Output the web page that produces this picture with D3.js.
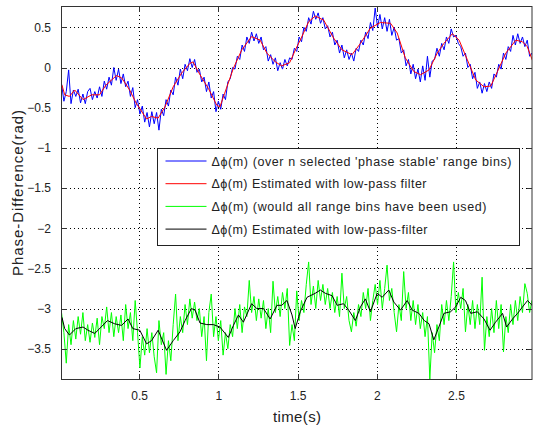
<!DOCTYPE html>
<html lang="en">
<head>
<meta charset="utf-8">
<script src="https://cdn.jsdelivr.net/npm/d3@7"></script>
<style>
  body { margin: 0; background: #fff; }
  text { font-family: "Liberation Sans", Arial, Helvetica, sans-serif; fill: #222; }
  .grid line { stroke: #000; stroke-width: 1; stroke-dasharray: 1,3; shape-rendering: crispEdges; }
  .tick line { stroke: #333; shape-rendering: crispEdges; }
</style>
</head>
<body>
<div id="chart"></div>
<script>

// x ticks / y ticks
var xTicks = [0.5, 1, 1.5, 2, 2.5];
var yTicks = [0.5, 0, -0.5, -1, -1.5, -2, -2.5, -3, -3.5];

// sample grid of the raw (noisy) series, seconds
var sampleStart = 0.01, sampleStep = 0.015;

// phase difference over the selected 'phase stable' bins (blue)
var stablePhase = [
  -0.20,-0.42,-0.30,-0.03,-0.45,-0.28,-0.36,-0.27,-0.44,-0.33,
  -0.45,-0.30,-0.26,-0.40,-0.30,-0.38,-0.24,-0.36,-0.17,-0.27,
  -0.12,-0.22, 0.00,-0.16,-0.02,-0.20,-0.08,-0.24,-0.17,-0.36,
  -0.25,-0.50,-0.40,-0.58,-0.48,-0.68,-0.56,-0.74,-0.55,-0.70,
  -0.56,-0.78,-0.52,-0.60,-0.40,-0.48,-0.28,-0.34,-0.12,-0.22,
  -0.02,-0.14, 0.04,-0.04, 0.11, 0.00, 0.10,-0.06,-0.02,-0.18,
  -0.12,-0.30,-0.18,-0.38,-0.30,-0.55,-0.42,-0.52,-0.33,-0.40,
  -0.18,-0.14, 0.00,-0.02, 0.14, 0.10, 0.28, 0.20, 0.38, 0.30,
   0.44, 0.33, 0.42, 0.30, 0.38, 0.22, 0.26, 0.08, 0.16, 0.04,
   0.12,-0.04, 0.06,-0.02, 0.10, 0.02, 0.12, 0.10, 0.24, 0.20,
   0.38, 0.32, 0.50, 0.45, 0.62, 0.54, 0.70, 0.60, 0.68, 0.55,
   0.62, 0.48, 0.52, 0.38, 0.44, 0.28, 0.34, 0.18, 0.28, 0.12,
   0.22, 0.10, 0.18, 0.08, 0.24, 0.20, 0.34, 0.28, 0.44, 0.36,
   0.56, 0.46, 0.74, 0.50, 0.66, 0.48, 0.62, 0.45, 0.60, 0.40,
   0.50, 0.34, 0.36, 0.18, 0.22, 0.02, 0.10,-0.08, 0.04,-0.14,
  -0.02,-0.18, 0.02,-0.16, 0.14,-0.12, 0.08, 0.10, 0.24, 0.14,
   0.30, 0.22, 0.38, 0.30, 0.48, 0.38, 0.40, 0.30, 0.26, 0.14,
   0.18, 0.00, 0.04,-0.14,-0.06,-0.26,-0.18,-0.32,-0.20,-0.30,
  -0.18,-0.26,-0.08,-0.12, 0.04,-0.02, 0.18, 0.10, 0.26, 0.20,
   0.40, 0.28, 0.42, 0.30, 0.38, 0.26, 0.34, 0.14, 0.18,-0.05
];

// phase difference had all range bins been used (green)
var allBinsPhase = [
  -3.05,-3.30,-3.68,-3.20,-3.45,-3.15,-3.38,-3.10,-3.32,-3.05,
  -3.40,-3.20,-3.42,-3.18,-3.36,-3.12,-3.45,-3.10,-3.25,-2.98,
  -3.30,-3.05,-3.35,-3.10,-3.30,-3.08,-3.40,-2.95,-3.25,-3.05,
  -3.40,-2.90,-3.30,-3.74,-3.35,-3.58,-3.25,-3.55,-3.30,-3.60,
  -3.80,-3.15,-3.45,-3.30,-3.82,-3.40,-3.65,-3.20,-2.82,-3.40,
  -3.10,-3.30,-2.95,-3.20,-2.88,-3.12,-2.92,-3.15,-3.00,-3.35,
  -3.10,-3.65,-3.05,-2.82,-3.35,-3.10,-3.40,-3.15,-3.58,-3.30,
  -3.50,-3.20,-3.35,-3.00,-3.25,-2.95,-3.30,-2.98,-3.10,-2.65,
  -3.05,-2.85,-3.15,-2.88,-3.12,-2.90,-3.25,-3.00,-3.30,-2.66,
  -3.05,-2.85,-3.10,-2.80,-3.00,-2.75,-3.46,-3.20,-3.40,-2.78,
  -3.15,-2.90,-3.05,-2.70,-2.42,-2.95,-2.72,-3.00,-2.65,-2.90,
  -2.70,-2.95,-2.75,-3.00,-2.80,-3.05,-2.85,-3.10,-2.56,-3.00,
  -2.85,-3.15,-3.29,-3.05,-3.22,-2.95,-3.10,-2.80,-3.00,-2.75,
  -3.15,-2.90,-2.70,-2.95,-2.65,-3.00,-2.75,-2.46,-2.90,-2.75,
  -3.05,-3.29,-2.95,-3.15,-2.54,-3.00,-2.80,-3.15,-2.90,-3.20,
  -2.95,-3.25,-3.05,-3.35,-3.10,-3.88,-3.30,-3.55,-3.20,-3.40,
  -2.95,-3.20,-2.90,-3.15,-2.85,-2.42,-3.05,-2.80,-3.00,-2.75,
  -3.29,-2.95,-3.20,-2.90,-3.25,-2.95,-3.20,-2.61,-3.52,-3.10,
  -3.35,-3.00,-3.30,-2.90,-3.25,-2.95,-3.54,-3.10,-3.30,-2.95,
  -3.20,-2.90,-3.15,-2.85,-3.05,-2.69,-2.81,-3.05,-2.90,-3.10
];

// low-pass estimate of the blue series (red), read at these times
var redTime = [0.013,0.03,0.06,0.093,0.146,0.2,0.25,0.29,0.357,0.39,0.44,0.48,0.547,0.578,0.62,0.663,0.715,0.768,0.82,0.84,
  0.884,0.937,0.99,1.01,1.04,1.095,1.148,1.21,1.264,1.306,1.36,1.40,1.45,1.496,1.517,1.57,1.612,1.665,1.728,1.78,
  1.844,1.897,1.96,2.023,2.087,2.129,2.18,2.234,2.277,2.33,2.382,2.424,2.477,2.52,2.572,2.625,2.677,2.72,2.762,2.815,
  2.878,2.92,2.95,2.99];
var redPhase = [-0.22,-0.34,-0.36,-0.28,-0.40,-0.34,-0.34,-0.22,-0.10,-0.13,-0.28,-0.44,-0.64,-0.61,-0.63,-0.49,-0.24,-0.07,0.05,0.07,
  -0.09,-0.26,-0.47,-0.49,-0.32,-0.01,0.22,0.385,0.34,0.18,0.07,0.02,0.06,0.26,0.34,0.57,0.64,0.59,0.365,0.22,
  0.16,0.30,0.49,0.56,0.55,0.43,0.12,-0.05,-0.09,-0.03,0.18,0.30,0.42,0.34,0.095,-0.155,-0.24,-0.23,-0.05,0.18,
  0.34,0.32,0.26,0.05];

// low-pass estimate of the green series (black)
var blackTime = [0.013,0.03,0.06,0.10,0.146,0.177,0.22,0.26,0.30,0.346,0.389,0.43,0.46,0.504,0.547,0.578,0.62,0.673,0.715,0.758,
  0.79,0.83,0.853,0.884,0.927,0.968,1.01,1.063,1.095,1.127,1.158,1.21,1.243,1.285,1.327,1.37,1.40,1.433,1.465,1.485,
  1.517,1.56,1.612,1.644,1.675,1.718,1.75,1.79,1.823,1.865,1.897,1.928,1.96,2.003,2.034,2.076,2.108,2.15,2.192,2.224,
  2.266,2.30,2.33,2.36,2.392,2.424,2.466,2.498,2.53,2.56,2.593,2.635,2.677,2.715,2.75,2.794,2.82,2.857,2.889,2.92,
  2.952,2.99];
var blackPhase = [-3.11,-3.25,-3.33,-3.25,-3.23,-3.27,-3.31,-3.23,-3.15,-3.19,-3.21,-3.13,-3.25,-3.27,-3.44,-3.40,-3.27,-3.52,-3.40,-3.29,
  -3.15,-3.00,-3.02,-3.18,-3.20,-3.20,-3.23,-3.36,-3.21,-3.08,-3.17,-2.94,-3.00,-3.00,-3.13,-2.96,-2.96,-2.90,-3.08,-3.25,
  -3.04,-2.86,-2.81,-2.77,-2.81,-2.84,-2.96,-2.94,-3.02,-3.15,-2.98,-2.88,-3.04,-2.81,-2.86,-2.77,-2.92,-3.02,-2.90,-3.02,
  -3.06,-3.15,-3.19,-3.39,-3.23,-3.06,-3.04,-2.98,-2.86,-2.90,-3.06,-3.04,-3.13,-3.27,-3.17,-3.06,-3.23,-3.13,-3.06,-2.98,
  -2.90,-2.98];

var legendLabels = [
  "\u0394\u03d5(m) (over n selected 'phase stable' range bins)",
  "\u0394\u03d5(m) Estimated with low-pass filter",
  "\u0394\u03d5(m) (would all range bins have been used)",
  "\u0394\u03d5(m) Estimated with low-pass-filter"
];
var legendColors = ["#0000ff", "#ff0000", "#00ff00", "#000000"];
var legendWidths = [300, 215, 275, 216];

// dimensions
var W = 533, H = 428;
var margin = {top: 7, right: 1, bottom: 49, left: 62};
var width = W - margin.left - margin.right,
    height = H - margin.top - margin.bottom;

var svg = d3.select("#chart").append("svg")
    .attr("width", W).attr("height", H)
    .append("g")
    .attr("transform", "translate(" + margin.left + "," + margin.top + ")");

var x = d3.scaleLinear().domain([0.013, 2.98]).range([0, width]);
var y = d3.scaleLinear().domain([-3.877, 0.753]).range([height, 0]);

// grid
var grid = svg.append("g").attr("class", "grid");
grid.selectAll(".gx").data(xTicks).enter().append("line")
    .attr("x1", function(d) { return Math.round(x(d)) + 0.5; })
    .attr("x2", function(d) { return Math.round(x(d)) + 0.5; })
    .attr("y1", 0).attr("y2", height);
grid.selectAll(".gy").data(yTicks).enter().append("line")
    .attr("y1", function(d) { return Math.round(y(d)) + 0.5; })
    .attr("y2", function(d) { return Math.round(y(d)) + 0.5; })
    .attr("x1", 0).attr("x2", width);

svg.append("clipPath").attr("id", "clip")
  .append("rect").attr("width", width).attr("height", height);

var plot = svg.append("g").attr("clip-path", "url(#clip)");

var sampleLine = d3.line()
    .x(function(d, i) { return x(sampleStart + i * sampleStep); })
    .y(function(d) { return y(d); });

function pairLine(times) {
  return d3.line()
    .x(function(d, i) { return x(times[i]); })
    .y(function(d) { return y(d); });
}

plot.append("path").datum(stablePhase)
    .attr("d", sampleLine).attr("fill", "none")
    .attr("stroke", "#0000ff").attr("stroke-width", 1);
plot.append("path").datum(redPhase)
    .attr("d", pairLine(redTime)).attr("fill", "none")
    .attr("stroke", "#ff0000").attr("stroke-width", 1);
plot.append("path").datum(allBinsPhase)
    .attr("d", sampleLine).attr("fill", "none")
    .attr("stroke", "#00ff00").attr("stroke-width", 1);
plot.append("path").datum(blackPhase)
    .attr("d", pairLine(blackTime)).attr("fill", "none")
    .attr("stroke", "#000").attr("stroke-width", 1);

// axes, ticks pointing inwards like matlab
var fmt = function(d) { return d3.format("")(d); };
var xb = svg.append("g").attr("transform", "translate(0," + height + ")")
    .call(d3.axisBottom(x).tickValues(xTicks).tickSize(-5).tickPadding(10).tickFormat(fmt));
var xt = svg.append("g")
    .call(d3.axisTop(x).tickValues(xTicks).tickSize(-5).tickFormat(""));
var yl = svg.append("g")
    .call(d3.axisLeft(y).tickValues(yTicks).tickSize(-5).tickPadding(11).tickFormat(fmt));
var yr = svg.append("g").attr("transform", "translate(" + width + ",0)")
    .call(d3.axisRight(y).tickValues(yTicks).tickSize(-5).tickFormat(""));
[xb, xt, yl, yr].forEach(function(a) {
  a.select(".domain").remove();
  a.selectAll("text").style("font-size", "12px").attr("fill", "#222")
    .style("font-family", "'Liberation Sans', Arial, sans-serif");
});
xb.selectAll("text").attr("dy", "0.9em");

svg.append("rect")
    .attr("x", -0.5).attr("y", -0.5)
    .attr("width", width + 0.5).attr("height", height + 1)
    .attr("fill", "none").attr("stroke", "#333").attr("stroke-width", 1);

// axis labels
svg.append("text")
    .attr("x", width / 2).attr("y", 415)
    .attr("text-anchor", "middle")
    .style("font-size", "15px")
    .attr("textLength", 48)
    .text("time(s)");
svg.append("text")
    .attr("transform", "translate(-39," + (height / 2) + ") rotate(-90)")
    .attr("text-anchor", "middle")
    .style("font-size", "15px")
    .attr("textLength", 166)
    .text("Phase-Difference(rad)");

// legend
var lg = svg.append("g").attr("transform", "translate(" + (157.5 - margin.left) + "," + (148.5 - margin.top) + ")");
lg.append("rect")
    .attr("width", 362).attr("height", 97)
    .attr("fill", "#fff").attr("stroke", "#222").attr("stroke-width", 1);
var row = lg.selectAll(".row").data(legendLabels).enter().append("g")
    .attr("transform", function(d, i) { return "translate(0," + (12.5 + i * 22.7) + ")"; });
row.append("line")
    .attr("x1", 8).attr("x2", 49)
    .attr("stroke", function(d, i) { return legendColors[i]; })
    .attr("stroke-width", 1);
row.append("text")
    .attr("x", 54).attr("dy", "0.36em")
    .style("font-size", "12.5px")
    .attr("textLength", function(d, i) { return legendWidths[i]; })
    .text(function(d) { return d; });

</script>
</body>
</html>
